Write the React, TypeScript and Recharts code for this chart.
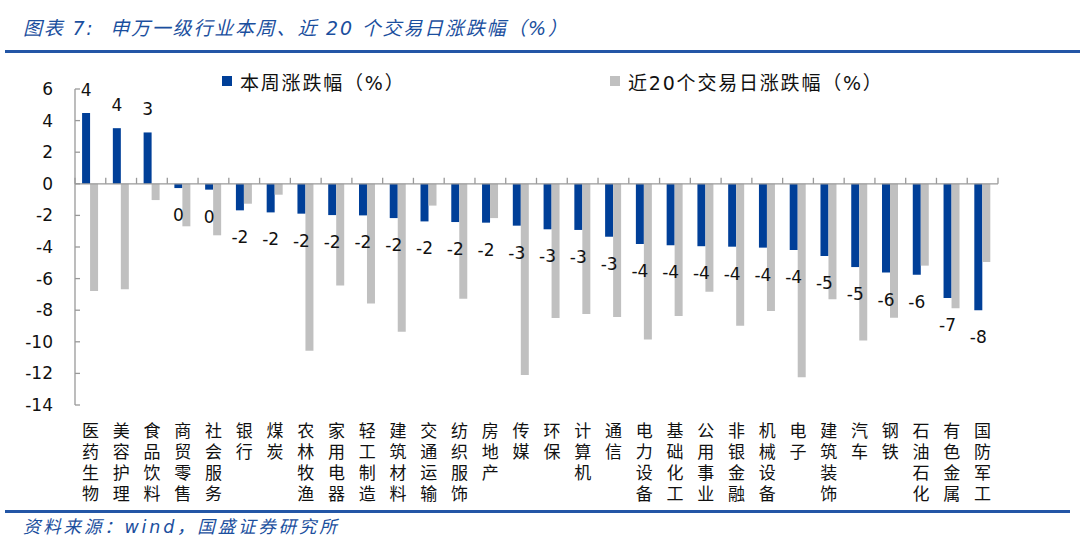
import React from 'react';
import { BarChart, Bar, XAxis, YAxis, ReferenceLine, LabelList } from 'recharts';

const categories = [
  '医药生物', '美容护理', '食品饮料', '商贸零售', '社会服务', '银行', '煤炭', '农林牧渔',
  '家用电器', '轻工制造', '建筑材料', '交通运输', '纺织服饰', '房地产', '传媒', '环保',
  '计算机', '通信', '电力设备', '基础化工', '公用事业', '非银金融', '机械设备', '电子',
  '建筑装饰', '汽车', '钢铁', '石油石化', '有色金属', '国防军工',
];

// 本周涨跌幅（%）
const weekly = [
  4.48, 3.52, 3.25, -0.27, -0.37, -1.68, -1.81, -1.89,
  -1.98, -2.0, -2.17, -2.38, -2.42, -2.46, -2.65, -2.88,
  -2.92, -3.35, -3.81, -3.89, -3.95, -3.98, -4.04, -4.19,
  -4.57, -5.27, -5.62, -5.75, -7.23, -8.01,
];

// 近20个交易日涨跌幅（%）
const month20 = [
  -6.78, -6.68, -1.03, -2.69, -3.26, -1.26, -0.69, -10.56,
  -6.43, -7.57, -9.36, -1.38, -7.27, -2.17, -12.1, -8.49,
  -8.24, -8.43, -9.86, -8.37, -6.83, -8.98, -8.05, -12.25,
  -7.31, -9.91, -8.47, -5.18, -7.88, -4.95,
];

const yTicks = [6, 4, 2, 0, -2, -4, -6, -8, -10, -12, -14];

const data = categories.map((name, i) => ({ name, weekly: weekly[i], month20: month20[i] }));

const BLUE = '#003f98';
const GRAY = '#c0c0c0';
const AXIS = '#999999';
const TITLE_BLUE = '#1b4f9e';
const NUM_FONT = '"DejaVu Sans", "Noto Sans CJK SC", sans-serif';
const CJK_FONT = '"Noto Sans CJK SC", "DejaVu Sans", sans-serif';

// category names are written top to bottom
function VerticalTick(props: any) {
  const { x, y, payload } = props;
  return (
    <text
      x={x}
      y={y + 17}
      fontSize={17}
      fontFamily={CJK_FONT}
      fill="#111"
      style={{ writingMode: 'vertical-rl', textOrientation: 'upright', letterSpacing: 4 }}
    >
      {String(payload.value)}
    </text>
  );
}

function WeeklyLabel(props: any) {
  const { x, y, width, height, value } = props;
  const top = Math.min(y, y + height);
  const bottom = Math.max(y, y + height);
  const cy = value >= 0 ? top - 23 : bottom + 27;
  return (
    <text
      x={x + width / 2}
      y={cy}
      textAnchor="middle"
      dominantBaseline="central"
      fontSize={17}
      fontFamily={NUM_FONT}
      fill="#111"
    >
      {String(Math.round(value))}
    </text>
  );
}

// zero line with tick marks at category boundaries
function ZeroLine(props: any) {
  const { x1, y1, x2 } = props;
  const n = categories.length;
  const step = (x2 - x1) / n;
  return (
    <g>
      <line x1={x1} y1={y1} x2={x2} y2={y1} stroke={AXIS} strokeWidth={1.3} />
      {Array.from({ length: n + 1 }, (_, k) => (
        <line key={k} x1={x1 + k * step} y1={y1 - 6} x2={x1 + k * step} y2={y1} stroke={AXIS} strokeWidth={1.3} />
      ))}
    </g>
  );
}

function LegendItem({ left, color, label }: { left: number; color: string; label: string }) {
  return (
    <div style={{ position: 'absolute', left, top: 70, height: 22, display: 'flex', alignItems: 'center' }}>
      <div style={{ width: 10, height: 10, background: color, marginRight: 8 }} />
      <span style={{ fontFamily: NUM_FONT, fontSize: 19, letterSpacing: 1.8, color: '#111', whiteSpace: 'nowrap' }}>
        {label}
      </span>
    </div>
  );
}

export default function App() {
  return (
    <div style={{ position: 'absolute', left: 0, top: 0, width: 1080, height: 553, background: '#fff', overflow: 'hidden' }}>
      <div
        style={{
          position: 'absolute', left: 23, top: 16, fontSize: 19, fontStyle: 'italic', letterSpacing: 1.8,
          color: TITLE_BLUE, fontFamily: NUM_FONT, whiteSpace: 'pre', lineHeight: '24px',
        }}
      >
        图表 7:  申万一级行业本周、近 20 个交易日涨跌幅（%）
      </div>
      <div style={{ position: 'absolute', left: 5, top: 50, width: 1075, height: 3, background: '#2356a6' }} />

      <LegendItem left={222} color={BLUE} label="本周涨跌幅（%）" />
      <LegendItem left={610} color={GRAY} label="近20个交易日涨跌幅（%）" />

      <div style={{ position: 'absolute', left: 0, top: 55 }}>
        <BarChart
          width={1080}
          height={455}
          data={data}
          margin={{ top: 34, right: 82, left: 0, bottom: 0 }}
          barCategoryGap="23%"
          barGap={0}
        >
          <XAxis
            dataKey="name"
            interval={0}
            height={105}
            axisLine={false}
            tickLine={false}
            tickSize={0}
            tickMargin={0}
            tick={<VerticalTick />}
          />
          <YAxis
            width={75}
            domain={[-14, 6]}
            ticks={yTicks}
            interval={0}
            axisLine={{ stroke: AXIS, strokeWidth: 1.3 }}
            tickLine={{ stroke: AXIS, strokeWidth: 1.3 }}
            tickSize={-5}
            tickMargin={27}
            tick={{ fontSize: 17, fontFamily: NUM_FONT, fill: '#111' }}
          />
          <Bar dataKey="weekly" fill={BLUE} isAnimationActive={false}>
            <LabelList dataKey="weekly" content={<WeeklyLabel />} />
          </Bar>
          <Bar dataKey="month20" fill={GRAY} isAnimationActive={false} />
          <ReferenceLine y={0} shape={<ZeroLine />} />
        </BarChart>
      </div>

      <div style={{ position: 'absolute', left: 5, top: 510, width: 1065, height: 2.5, background: '#2356a6' }} />
      <div
        style={{
          position: 'absolute', left: 23, top: 515, fontSize: 17.5, fontStyle: 'italic', letterSpacing: 2.8,
          color: TITLE_BLUE, fontFamily: NUM_FONT, whiteSpace: 'nowrap', lineHeight: '24px',
        }}
      >
        资料来源：wind，国盛证券研究所
      </div>
    </div>
  );
}
